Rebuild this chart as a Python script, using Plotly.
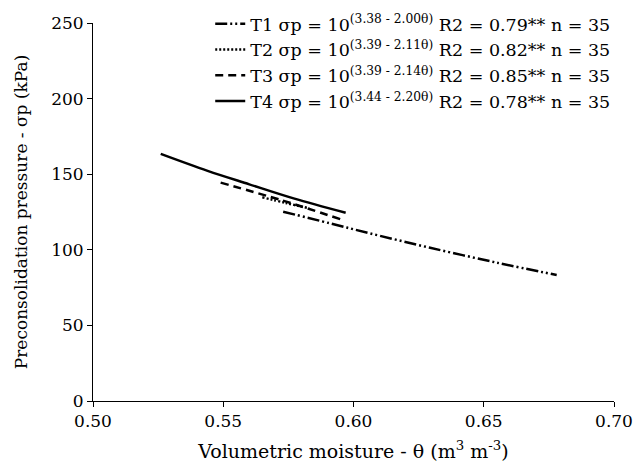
import plotly.graph_objects as go

# Data
t1_theta = [0.573, 0.591, 0.606, 0.629, 0.655, 0.678]
t1_sp = [125.2, 117.5, 111.0, 101.5, 91.5, 83.3]
t2_theta = [0.565, 0.574, 0.583]
t2_sp = [134.7, 131.0, 127.4]
t3_theta = [0.549, 0.572, 0.595]
t3_sp = [144.4, 133.0, 120.2]
t4_theta = [0.526, 0.544, 0.560, 0.577, 0.597]
t4_sp = [163.4, 152.2, 143.3, 134.0, 124.5]

names = [
    "T1 σp = 10<sup>(3.38 - 2.00θ)</sup> R2 = 0.79** n = 35",
    "T2 σp = 10<sup>(3.39 - 2.11θ)</sup> R2 = 0.82** n = 35",
    "T3 σp = 10<sup>(3.39 - 2.14θ)</sup> R2 = 0.85** n = 35",
    "T4 σp = 10<sup>(3.44 - 2.20θ)</sup> R2 = 0.78** n = 35",
]
dashes = ["12px,3px,2px,3px,2px,3px", "2px,2px", "8px,5px", "solid"]

fig = go.Figure()
for th, sp, nm, ds in zip([t1_theta, t2_theta, t3_theta, t4_theta],
                          [t1_sp, t2_sp, t3_sp, t4_sp], names, dashes):
    fig.add_trace(go.Scatter(x=th, y=sp, mode="lines", name=nm,
                             line=dict(color="black", width=2.5, dash=ds, shape="spline")))

font_family = "DejaVu Serif"
fig.update_layout(
    width=633, height=465,
    margin=dict(l=93, r=19, t=23, b=64, autoexpand=False),
    paper_bgcolor="white", plot_bgcolor="white",
    font=dict(family=font_family, size=17, color="black"),
    showlegend=True,
    legend=dict(x=0.225, y=1.045, xanchor="left", yanchor="top",
                bgcolor="rgba(0,0,0,0)", font=dict(size=17.5),
                itemwidth=30, tracegroupgap=0),
    xaxis=dict(range=[0.5, 0.7], tickvals=[0.5, 0.55, 0.6, 0.65, 0.7],
               ticktext=["0.50", "0.55", "0.60", "0.65", "0.70"],
               showline=True, linecolor="black", linewidth=1,
               ticks="outside", ticklen=5, tickcolor="black",
               showgrid=False, zeroline=False, automargin=False,
               tickfont=dict(size=17),
               title=dict(text="Volumetric moisture - θ (m<sup>3</sup> m<sup>-3</sup>)",
                          standoff=14, font=dict(size=19))),
    yaxis=dict(range=[0, 250], dtick=50,
               showline=True, linecolor="black", linewidth=1,
               ticks="outside", ticklen=5, tickcolor="black",
               showgrid=False, zeroline=False, automargin=False,
               tickfont=dict(size=17),
               title=dict(text="Preconsolidation pressure - σp (kPa)",
                          standoff=19, font=dict(size=17))),
)
fig.write_html("out.html", config={"displayModeBar": False},
               post_script="document.body.style.margin='0px';")
